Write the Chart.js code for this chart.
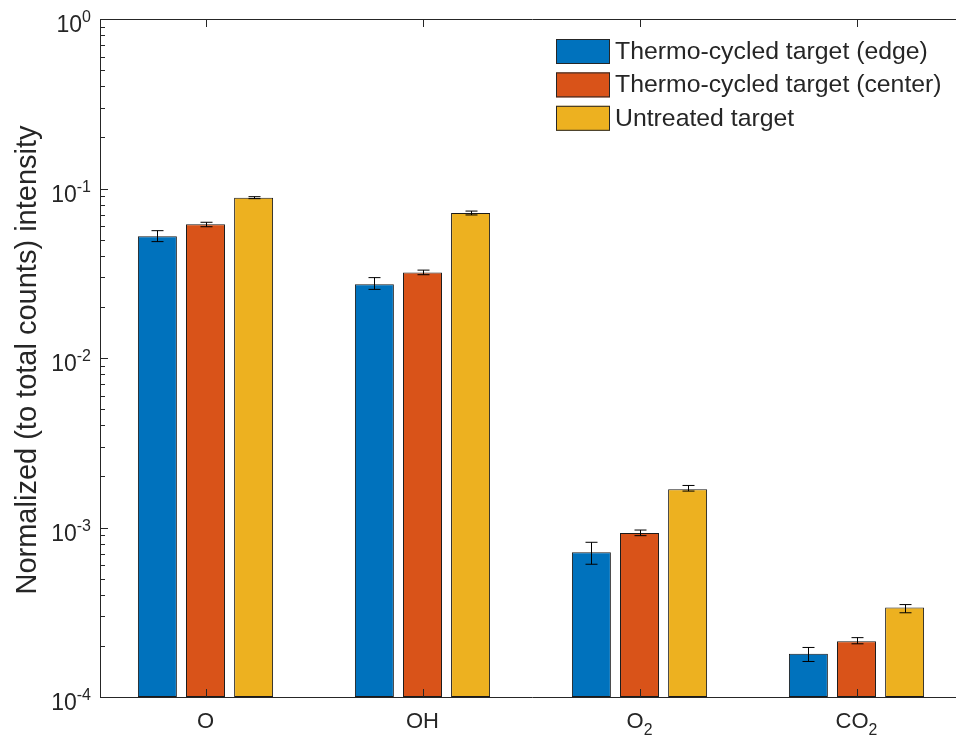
<!DOCTYPE html>
<html>
<head>
<meta charset="utf-8">
<script src="https://cdn.jsdelivr.net/npm/chart.js@4.4.0/dist/chart.umd.min.js"></script>
<style>
  html, body { margin: 0; padding: 0; background: #fff; overflow: hidden; }
</style>
</head>
<body>
<canvas id="barChart" width="966" height="741"></canvas>
<script>
// categories and series
const categories = ['O', 'OH', 'O2', 'CO2'];
const seriesNames = ['Thermo-cycled target (edge)', 'Thermo-cycled target (center)', 'Untreated target'];
const seriesColors = ['#0072BD', '#D95319', '#EDB120'];

const edgeValues = [0.0522, 0.0272, 7.14e-4, 1.80e-4];
const centerValues = [0.0615, 0.0319, 9.28e-4, 2.13e-4];
const untreatedValues = [0.0883, 0.0717, 1.68e-3, 3.37e-4];

// error bar ends
const edgeLow = [0.0486, 0.0254, 6.07e-4, 1.62e-4];
const edgeHigh = [0.0564, 0.0298, 8.18e-4, 1.96e-4];
const centerLow = [0.0595, 0.0310, 8.95e-4, 2.06e-4];
const centerHigh = [0.0632, 0.0330, 9.66e-4, 2.24e-4];
const untreatedLow = [0.0871, 0.0698, 1.64e-3, 3.14e-4];
const untreatedHigh = [0.0895, 0.0736, 1.77e-3, 3.51e-4];

const yTickExponents = [0, -1, -2, -3, -4];
const yTitle = 'Normalized (to total counts) intensity';

const errLow = [edgeLow, centerLow, untreatedLow];
const errHigh = [edgeHigh, centerHigh, untreatedHigh];
const ink = '#262626';
const fontFam = '"Liberation Sans", Arial, Helvetica, sans-serif';

// draws text with digits as subscripts, centred on x
function drawChem(ctx, text, x, y, size) {
    const parts = [];
    for (const ch of text) {
        const sub = /[0-9]/.test(ch);
        if (parts.length && parts[parts.length - 1].sub === sub) parts[parts.length - 1].t += ch;
        else parts.push({ t: ch, sub: sub });
    }
    let total = 0;
    parts.forEach(p => {
        ctx.font = (p.sub ? size * 0.72 : size) + 'px ' + fontFam;
        p.w = ctx.measureText(p.t).width;
        total += p.w;
    });
    let cx = x - total / 2;
    ctx.textAlign = 'left';
    ctx.textBaseline = 'alphabetic';
    parts.forEach(p => {
        ctx.font = (p.sub ? size * 0.72 : size) + 'px ' + fontFam;
        ctx.fillText(p.t, cx, p.sub ? y + 7 : y);
        cx += p.w;
    });
}

const axesPlugin = {
    id: 'axesPlugin',
    afterDatasetsDraw(chart) {
        const ctx = chart.ctx;
        const area = chart.chartArea;
        const x = chart.scales.x;
        const y = chart.scales.y;
        const axLeft = 100; // MATLAB axis sits a little inside the category range
        ctx.save();

        // error bars
        ctx.strokeStyle = '#000';
        ctx.lineWidth = 1;
        chart.data.datasets.forEach((ds, di) => {
            const meta = chart.getDatasetMeta(di);
            meta.data.forEach((bar, i) => {
                const bx = Math.round(bar.x) + 0.5;
                const y1 = y.getPixelForValue(errLow[di][i]);
                const y2 = y.getPixelForValue(errHigh[di][i]);
                ctx.beginPath();
                ctx.moveTo(bx, y1); ctx.lineTo(bx, y2);
                ctx.moveTo(bx - 6, y1); ctx.lineTo(bx + 6, y1);
                ctx.moveTo(bx - 6, y2); ctx.lineTo(bx + 6, y2);
                ctx.stroke();
            });
        });

        // axis box
        ctx.strokeStyle = ink;
        ctx.beginPath();
        ctx.rect(axLeft + 0.5, area.top + 0.5, area.right - axLeft - 1, area.bottom - area.top);
        ctx.stroke();

        // log ticks, inward on both sides
        ctx.beginPath();
        for (let e = -4; e <= 0; e++) {
            for (let m = 1; m <= 9; m++) {
                const v = m * Math.pow(10, e);
                if (v > 1 || v < 1e-4) continue;
                const py = Math.round(y.getPixelForValue(v)) + 0.5;
                const len = m === 1 ? 8 : 5;
                ctx.moveTo(axLeft, py); ctx.lineTo(axLeft + len, py);
                ctx.moveTo(area.right, py); ctx.lineTo(area.right - len, py);
            }
        }
        // category ticks top and bottom
        categories.forEach((c, i) => {
            const px = Math.round(x.getPixelForValue(i)) + 0.5;
            ctx.moveTo(px, area.top); ctx.lineTo(px, area.top + 8);
            ctx.moveTo(px, area.bottom); ctx.lineTo(px, area.bottom - 8);
        });
        ctx.stroke();

        // y tick labels 10^k
        ctx.fillStyle = ink;
        yTickExponents.forEach(k => {
            const py = y.getPixelForValue(Math.pow(10, k));
            ctx.font = '16px ' + fontFam;
            const sup = String(k);
            const sw = ctx.measureText(sup).width;
            ctx.textAlign = 'right';
            ctx.textBaseline = 'alphabetic';
            ctx.fillText(sup, axLeft - 9, py + 3);
            ctx.font = '23px ' + fontFam;
            ctx.fillText('10', axLeft - 9 - sw, py + 13);
        });

        // category labels
        categories.forEach((c, i) => {
            drawChem(ctx, c, x.getPixelForValue(i), area.bottom + 31, 22);
        });

        // y title
        ctx.save();
        ctx.translate(36, (area.top + area.bottom) / 2 + 2);
        ctx.rotate(-Math.PI / 2);
        ctx.font = '29px ' + fontFam;
        ctx.textAlign = 'center';
        ctx.textBaseline = 'alphabetic';
        ctx.fillText(yTitle, 0, 0);
        ctx.restore();

        // legend
        seriesNames.forEach((name, i) => {
            const top = 39 + i * 33.4;
            ctx.fillStyle = seriesColors[i];
            ctx.fillRect(556, top, 54, 25);
            ctx.strokeStyle = ink;
            ctx.strokeRect(556.5, top + 0.5, 53, 24);
            ctx.fillStyle = ink;
            ctx.font = '24.8px ' + fontFam;
            ctx.textAlign = 'left';
            ctx.textBaseline = 'middle';
            ctx.fillText(name, 615, top + 13);
        });

        ctx.restore();
    }
};

const ctx = document.getElementById('barChart').getContext('2d');
const seriesValues = [edgeValues, centerValues, untreatedValues];

new Chart(ctx, {
    type: 'bar',
    data: {
        labels: categories,
        datasets: seriesNames.map((name, i) => ({
            label: name,
            data: seriesValues[i],
            backgroundColor: seriesColors[i],
            borderColor: '#1a1a1a',
            borderWidth: 1,
            borderSkipped: false,
            categoryPercentage: 0.665,
            barPercentage: 0.81,
        })),
    },
    options: {
        responsive: false,
        animation: false,
        layout: { padding: { left: 97, top: 19, right: 1, bottom: 44 } },
        plugins: {
            legend: { display: false },
            tooltip: { enabled: false },
        },
        scales: {
            x: { display: false, offset: true },
            y: { type: 'logarithmic', display: false, min: 1e-4, max: 1 },
        },
    },
    plugins: [axesPlugin],
});
</script>
</body>
</html>
